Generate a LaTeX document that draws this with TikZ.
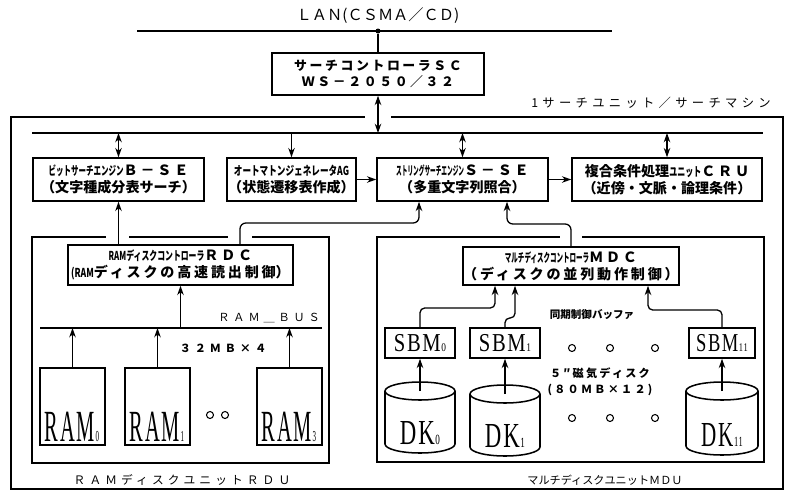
\documentclass[tikz,border=0pt]{standalone}
\usepackage{fontspec}
\usepackage{graphicx}
\usetikzlibrary{arrows.meta,calc}
\setmainfont{Noto Sans CJK JP}
\newfontfamily\jp{Noto Sans CJK JP}
\newfontfamily\jpm[LetterSpace=20]{Noto Sans CJK JP}
\newfontfamily\jpw[LetterSpace=35]{Noto Sans CJK JP}
\newfontfamily\romf[LetterSpace=8]{Liberation Serif}
\newlength\pxu \setlength\pxu{0.03cm}
\newcommand\nk[2][0.65]{{\jp\bfseries\fontsize{10.5}{10.5}\selectfont\scalebox{#1}[1]{#2}}}
\newcommand\dev[5]{\scalebox{#2}[1]{\romf\mdseries\fontsize{#1}{#1}\selectfont #3\kern0.03em\fontsize{#4}{#4}\selectfont #5}}
\newcommand\bnode[7][boxst]{\node[#1, minimum width={(#5-#3)*\pxu}, minimum height={(#6-#4)*\pxu}] (#2) at ({(#3+#5)/2},{(#4+#6)/2}) {#7};}
\newcommand\cyl[6]{%
  \draw[cylst] ({#2-#5},#3) -- ({#2-#5},#4) arc[start angle=180, end angle=0, x radius=#5, y radius=#6] -- ({#2+#5},#3);
  \draw[cylst] (#2,#3) ellipse [x radius=#5, y radius=#6];
  \coordinate (#1) at (#2,#3);}
\tikzset{
  boxst/.style={draw, line width=1.3pt, inner sep=0pt, align=center, font=\jp\bfseries\fontsize{12}{14.5}\selectfont},
  framest/.style={draw, line width=1.3pt, inner sep=0pt},
  conn/.style={line width=1.1pt},
  arr/.style={conn, -{Stealth[length=8pt,width=5.6pt]}},
  dbl/.style={conn, {Stealth[length=8pt,width=5.6pt]}-{Stealth[length=8pt,width=5.6pt]}},
  txt/.style={inner sep=0pt, align=center},
  gapst/.style={draw=white, line width=3.5pt},
  ring/.style={circle, draw, line width=0.9pt, inner sep=0pt, minimum size={7*\pxu}},
  landot/.style={circle, fill, inner sep=0pt, minimum size={5*\pxu}},
  cylst/.style={line width=1.3pt},
}
\begin{document}
\begin{tikzpicture}[x=0.03cm,y=-0.03cm]
\useasboundingbox (0,0) rectangle (787,493);
% LAN
\node[txt, font=\jp\fontsize{13}{13}\selectfont] (lan) at (378,16) {ＬＡＮ(ＣＳＭＡ／ＣＤ)};
\coordinate (lanL) at (137,31);
\coordinate (lanR) at (612,31);
\draw[conn] (lanL) -- (lanR);
\node[landot] (ldot) at (378,31) {};
\bnode[boxst, font=\jpm\bfseries\fontsize{11}{13}\selectfont]{sc}{272}{53}{484}{95}{サーチコントローラＳＣ\\ＷＳ－２０５０／３２}
\draw[conn] (ldot) -- (sc.north);
\node[txt, font=\jpw\fontsize{10.5}{11}\selectfont] (unitlbl) at (651,103) {1サーチユニット／サーチマシン};
% outer frame and bus
\bnode[framest]{outer}{11}{117}{783}{489}{}
\draw[gapst] (365,117) -- (391,117);
\coordinate (busL) at (32,133);
\coordinate (busR) at (763,133);
\draw[conn, line width=1.3pt] (busL) -- (busR);
\draw[dbl] (sc.south) -- (sc.south |- busL);
% top row
\bnode{bse}{33}{158}{204}{201}{\nk[0.61]{ビットサーチエンジン}{\jpm Ｂ－ＳＥ}\\（文字種成分表サーチ）}
\bnode{ag}{227}{158}{356}{201}{\nk[0.70]{オートマトンジェネレータAG}\\（状態遷移表作成）}
\bnode{sse}{377}{158}{548}{201}{\nk[0.46]{ストリングサーチエンジン}{\jpm Ｓ－ＳＥ}\\（多重文字列照合）}
\bnode{cru}{572}{158}{762}{201}{複合条件処理\nk[0.65]{ユニット}{\jpm ＣＲＵ}\\（近傍・文脈・論理条件）}
\draw[dbl] (bse.north |- busL) -- (bse.north);
\draw[arr] (ag.north |- busL) -- (ag.north);
\draw[dbl] (sse.north |- busL) -- (sse.north);
\draw[dbl] (cru.north |- busL) -- (cru.north);
\draw[arr] (ag.east) -- (sse.west);
\draw[arr] (sse.east) -- (cru.west);
% RAM disk unit
\bnode[framest]{rdu}{32}{237}{329}{463}{}
\draw[gapst] (106,237) -- (129,237);
\draw[gapst] (228,237) -- (252,237);
\bnode{rdc}{68}{245}{293}{285}{\nk[0.64]{RAMディスクコントローラ}{\jpm ＲＤＣ}\\\nk[0.7]{(RAM}{\jpm ディスクの高速読出制御}）}
\draw[arr] (bse.south |- rdc.north) -- (bse.south);
\coordinate (r240) at (240,0);
\coordinate (rturn) at (419,223);
\draw[arr, rounded corners=5pt] (r240 |- rdc.north) |- (rturn) -- (rturn |- sse.south);
\coordinate (rbL) at (40,328);
\coordinate (rbR) at (322,328);
\draw[conn] (rbL) -- (rbR);
\node[txt, anchor=south east, font=\jpw\fontsize{9.5}{10}\selectfont] (rblbl) at (320,323) {ＲＡＭ＿ＢＵＳ};
\draw[arr] (rdc.south |- rbL) -- (rdc.south);
\bnode{ram0}{40}{368}{105}{445}{}
\bnode{ram1}{125}{368}{190}{445}{}
\bnode{ram3}{257}{368}{322}{445}{}
\node[txt] (ram0t) at (72,427) {\dev{38}{0.46}{RAM}{13}{0}};
\node[txt] (ram1t) at (157,427) {\dev{38}{0.46}{RAM}{13}{1}};
\node[txt] (ram3t) at (289,427) {\dev{38}{0.46}{RAM}{13}{3}};
\draw[arr] (ram0.north) -- (ram0.north |- rbL);
\draw[arr] (ram1.north) -- (ram1.north |- rbL);
\draw[arr] (ram3.north) -- (ram3.north |- rbL);
\node[txt, font=\jpw\bfseries\fontsize{9.5}{10}\selectfont] (ramcap) at (223,348) {３２ＭＢ×４};
\node[ring] (rr1) at (210,415) {};
\node[ring] (rr2) at (225,415) {};
\node[txt, font=\jpw\fontsize{10}{10}\selectfont] (rdulbl) at (182,480) {ＲＡＭディスクユニットＲＤＵ};
% multi disk unit
\bnode[framest]{mdu}{377}{237}{764}{462}{}
\draw[gapst] (560,237) -- (582,237);
\bnode{mdc}{463}{247}{679}{285}{\nk[0.53]{マルチディスクコントローラ}{\jpm ＭＤＣ}\\{\jpm （ディスクの並列動作制御）}}
\coordinate (mturn) at (507,224);
\draw[arr, rounded corners=5pt] (mdc.north) |- (mturn) -- (mturn |- sse.south);
\bnode{sbm0}{385}{328}{455}{358}{\dev{22}{0.8}{SBM}{10}{0}}
\bnode{sbm1}{470}{328}{540}{358}{\dev{22}{0.8}{SBM}{10}{1}}
\bnode{sbm11}{689}{328}{755}{358}{\dev{22}{0.72}{SBM}{10}{11}}
\coordinate (s0t) at (495,308);
\coordinate (s1t) at (515,318);
\coordinate (s11t) at (648,310);
\draw[arr, rounded corners=4pt] (sbm0.north) |- (s0t) -- (s0t |- mdc.south);
\draw[arr, rounded corners=4pt] (sbm1.north) |- (s1t) -- (s1t |- mdc.south);
\draw[arr, rounded corners=4pt] (sbm11.north) |- (s11t) -- (s11t |- mdc.south);
\cyl{dk0top}{420}{391}{444}{35}{9}
\cyl{dk1top}{505}{394}{447}{35}{9}
\cyl{dk11top}{722}{391}{446}{36}{9}
\node[txt] (dk0) at (420,433) {\dev{30}{0.65}{DK}{12}{0}};
\node[txt] (dk1) at (505,436) {\dev{30}{0.65}{DK}{12}{1}};
\node[txt] (dk11) at (722,435) {\dev{30}{0.6}{DK}{12}{11}};
\draw[arr] (dk0top) -- (sbm0.south);
\draw[arr] (dk1top) -- (sbm1.south);
\draw[arr] (dk11top) -- (sbm11.south);
\node[txt, font=\jp\bfseries\fontsize{9}{9}\selectfont] (syncbuf) at (592,315) {同期制御バッファ};
\node[ring] (m1) at (572,348) {};
\node[ring] (m2) at (610,348) {};
\node[ring] (m3) at (655,348) {};
\node[txt, font=\jpm\bfseries\fontsize{9.5}{9.5}\selectfont] (magdisk) at (600,373) {５″磁気ディスク};
\node[txt, font=\jpm\bfseries\fontsize{9.5}{9.5}\selectfont] (cap80) at (600,390) {(８０ＭＢ×１２)};
\node[ring] (m4) at (572,418) {};
\node[ring] (m5) at (610,418) {};
\node[ring] (m6) at (655,418) {};
\node[txt, font=\jp\fontsize{9.5}{9.5}\selectfont] (mdulbl) at (605,480) {マルチディスクユニットＭＤＵ};
\end{tikzpicture}
\end{document}
